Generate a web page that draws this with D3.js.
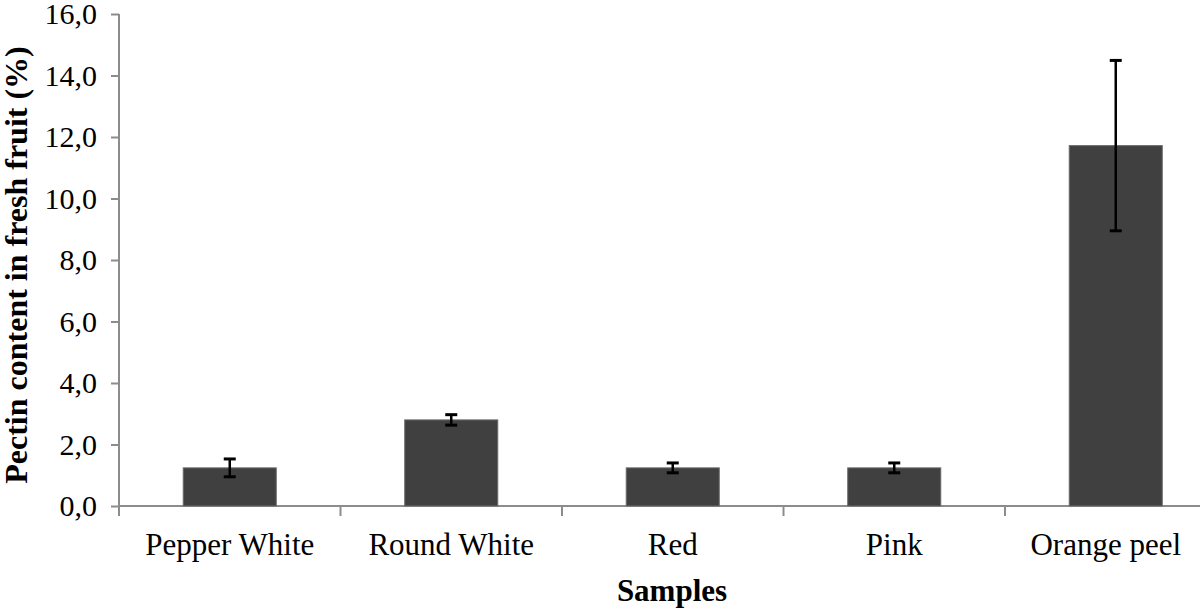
<!DOCTYPE html>
<html>
<head>
<meta charset="utf-8">
<script src="https://d3js.org/d3.v7.min.js"></script>
<style>
body { margin: 0; background: #fff; }
svg { display: block; }
</style>
</head>
<body>
<div id="chart"></div>
<script>
// data
const categories = ["Pepper White", "Round White", "Red", "Pink", "Orange peel"]
const values = [1.24, 2.8, 1.24, 1.24, 11.72]
const errors = [0.29, 0.17, 0.16, 0.16, 2.77]
const yTicks = [0, 2, 4, 6, 8, 10, 12, 14, 16]

const w = 1200
const h = 609
const margin = {top: 14, left: 119, bottom: 103}
const innerHeight = h - margin.top - margin.bottom
const band = 221.5

const svg = d3.select("#chart").append("svg")
    .attr("width", w)
    .attr("height", h)

const g = svg.append("g")
    .attr("transform", `translate(${margin.left},${margin.top})`)

const x = d3.scaleBand()
    .domain(categories)
    .range([0, band * categories.length])
    .paddingInner(0.58)
    .paddingOuter(0.29)

const y = d3.scaleLinear()
    .domain([0, 16])
    .range([innerHeight, 0])

const axisColor = "#8c8c8c"
const font = "'Liberation Serif', 'Times New Roman', serif"

// y axis
const yAxis = g.append("g")
    .call(d3.axisLeft(y).tickValues(yTicks).tickSize(8).tickPadding(14)
        .tickFormat(d => d3.format(".1f")(d).replace(".", ",")))
yAxis.select(".domain").attr("stroke", axisColor).attr("stroke-width", 2)
    .attr("d", `M0,0V${innerHeight + 10}`)
yAxis.selectAll(".tick line").attr("stroke", axisColor).attr("stroke-width", 2)
yAxis.selectAll("text").attr("font-family", font).attr("font-size", 30).attr("fill", "#000")

// x axis
const xAxis = g.append("g")
    .attr("transform", `translate(0,${innerHeight})`)
xAxis.append("line")
    .attr("x1", 0).attr("x2", band * categories.length)
    .attr("stroke", axisColor).attr("stroke-width", 2)
xAxis.selectAll(".sep")
    .data(d3.range(1, categories.length + 1))
    .enter().append("line")
    .attr("x1", d => d * band).attr("x2", d => d * band)
    .attr("y1", 0).attr("y2", 10)
    .attr("stroke", axisColor).attr("stroke-width", 2)
xAxis.selectAll(".lbl")
    .data(categories)
    .enter().append("text")
    .attr("x", (d, i) => x(d) + x.bandwidth() / 2 - (i === categories.length - 1 ? 10 : 0))
    .attr("y", 49)
    .attr("text-anchor", "middle")
    .attr("font-family", font)
    .attr("font-size", 31)
    .text(d => d)

// bars
g.selectAll(".bar")
    .data(values)
    .enter().append("rect")
    .attr("x", (d, i) => x(categories[i]))
    .attr("y", d => y(d))
    .attr("width", x.bandwidth())
    .attr("height", d => innerHeight - y(d))
    .attr("fill", "#404040")
    .attr("stroke", "#6a6a6a")
    .attr("stroke-width", 1)

// error bars
const err = g.selectAll(".err")
    .data(values)
    .enter().append("g")
    .attr("transform", (d, i) => `translate(${x(categories[i]) + x.bandwidth() / 2},0)`)
err.append("line")
    .attr("y1", (d, i) => y(d + errors[i]))
    .attr("y2", (d, i) => y(d - errors[i]))
    .attr("stroke", "#000").attr("stroke-width", 2.5)
err.append("line")
    .attr("x1", -6).attr("x2", 6)
    .attr("y1", (d, i) => y(d + errors[i])).attr("y2", (d, i) => y(d + errors[i]))
    .attr("stroke", "#000").attr("stroke-width", 3)
err.append("line")
    .attr("x1", -6).attr("x2", 6)
    .attr("y1", (d, i) => y(d - errors[i])).attr("y2", (d, i) => y(d - errors[i]))
    .attr("stroke", "#000").attr("stroke-width", 3)

// titles
svg.append("text")
    .attr("x", 672)
    .attr("y", 601)
    .attr("text-anchor", "middle")
    .attr("font-family", font)
    .attr("font-size", 31)
    .attr("font-weight", "bold")
    .text("Samples")

svg.append("text")
    .attr("transform", `translate(27,265) rotate(-90)`)
    .attr("text-anchor", "middle")
    .attr("font-family", font)
    .attr("font-size", 32)
    .attr("font-weight", "bold")
    .text("Pectin content in fresh fruit (%)")
</script>
</body>
</html>
